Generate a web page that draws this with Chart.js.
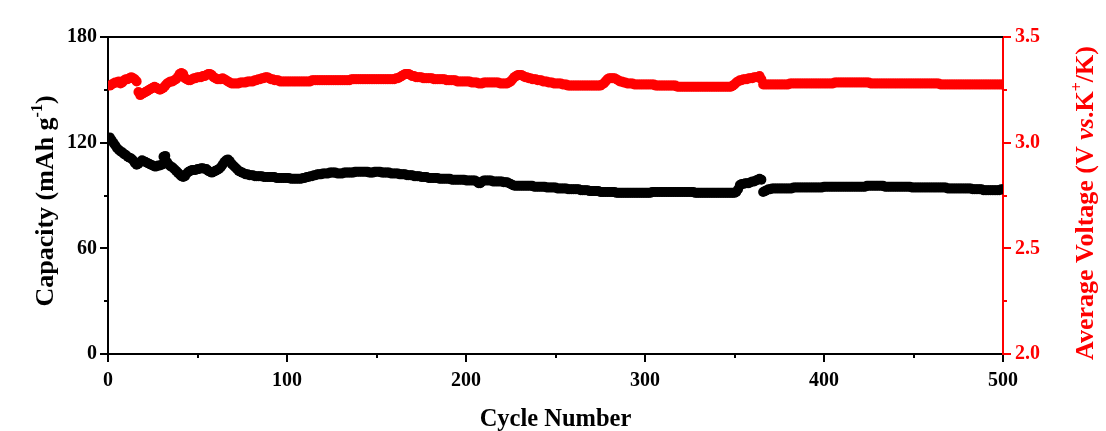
<!DOCTYPE html>
<html>
<head>
<meta charset="utf-8">
<script src="https://cdn.jsdelivr.net/npm/chart.js@4.4.1/dist/chart.umd.min.js"></script>
<style>
html,body{margin:0;padding:0;background:#fff;}
canvas{display:block;}
</style>
</head>
<body>
<canvas id="c" width="1106" height="431"></canvas>
<script>
// ---- data ----
const cycleCount = 500;
const xTicks = [0, 100, 200, 300, 400, 500];
const capacityTicks = [0, 60, 120, 180];
const voltageTicks = [2.0, 2.5, 3.0, 3.5];

const capacity = [
123,121.5,120,118.5,117,116,115,114.5,113.5,113,
112,111.5,111,110,108.5,107.5,108,109,110,109.5,
109,108.5,108,107.5,107,106.5,106.5,107,107,107.5,
112,112.5,109,107.5,106.5,106,105,104,103,102,
101,100.5,101,102.5,103.5,104,104.5,104.5,104.5,105,
105,105.5,105.5,105,105,104,103.5,103,103.5,104,
104.5,105,106,107.5,109,110,110.5,109.5,108,107,
106,105,104,103.5,103,102.5,102,102,101.5,101.5,
101.5,101,101,101,101,101,100.5,100.5,100.5,100.5,
100.5,100.5,100.5,100,100,100,100,100,100,100,
100,99.5,99.5,99.5,99.5,99.5,99.5,99.5,100,100,
100.5,100.5,101,101,101.5,101.5,102,102,102,102.5,
102.5,102.5,102.5,103,103,103,103,102.5,102.5,102.5,
102.5,103,103,103,103,103,103,103.5,103.5,103.5,
103.5,103.5,103.5,103.5,103.5,103,103,103,103.5,103.5,
103.5,103.5,103,103,103,103,103,102.5,102.5,102.5,
102.5,102.5,102,102,102,102,101.5,101.5,101.5,101.5,
101,101,101,101,100.5,100.5,100.5,100.5,100,100,
100,100,100,100,99.5,99.5,99.5,99.5,99.5,99.5,
99.5,99,99,99,99,99,99,99,99,98.5,
98.5,98.5,98.5,98.5,98.5,98,97,97,98,98.5,
98.5,98.5,98.5,98.5,98,98,98,98,98,98,
97.5,97.5,97.5,97,96.5,96,95.5,95.5,95.5,95.5,
95.5,95.5,95.5,95.5,95.5,95.5,95.5,95,95,95,
95,95,95,95,94.5,94.5,94.5,94.5,94.5,94.5,
94,94,94,94,94,94,93.5,93.5,93.5,93.5,
93.5,93.5,93.5,93,93,93,93,93,92.5,92.5,
92.5,92.5,92.5,92.5,92,92,92,92,92,92,
92,92,92,91.5,91.5,91.5,91.5,91.5,91.5,91.5,
91.5,91.5,91.5,91.5,91.5,91.5,91.5,91.5,91.5,91.5,
91.5,91.5,91.5,92,92,92,92,92,92,92,
92,92,92,92,92,92,92,92,92,92,
92,92,92,92,92,92,92,91.5,91.5,91.5,
91.5,91.5,91.5,91.5,91.5,91.5,91.5,91.5,91.5,91.5,
91.5,91.5,91.5,91.5,91.5,91.5,91.5,91.5,91.5,91.5,
92,93.5,96,96.5,96.5,97,97,97,97.5,98,
98,98.5,99,99.5,99,92,92.5,93,93.5,93.5,
94,94,94,94,94,94,94,94,94,94,
94,94,94.5,94.5,94.5,94.5,94.5,94.5,94.5,94.5,
94.5,94.5,94.5,94.5,94.5,94.5,94.5,94.5,94.5,95,
95,95,95,95,95,95,95,95,95,95,
95,95,95,95,95,95,95,95,95,95,
95,95,95,95.5,95.5,95.5,95.5,95.5,95.5,95.5,
95.5,95.5,95.5,95,95,95,95,95,95,95,
95,95,95,95,95,95,95,95,94.5,94.5,
94.5,94.5,94.5,94.5,94.5,94.5,94.5,94.5,94.5,94.5,
94.5,94.5,94.5,94.5,94.5,94.5,94.5,94.5,94,94,
94,94,94,94,94,94,94,94,94,94,
94,94,93.5,93.5,93.5,93.5,93.5,93.5,93,93,
93,93,93,93,93,93,93,93,93.5,93.5
];

const voltage = [
3.27,3.275,3.28,3.285,3.285,3.29,3.28,3.285,3.295,3.30,
3.30,3.305,3.31,3.305,3.30,3.29,3.24,3.225,3.23,3.235,
3.24,3.245,3.25,3.255,3.26,3.265,3.26,3.255,3.25,3.255,
3.26,3.27,3.28,3.285,3.29,3.29,3.295,3.30,3.31,3.325,
3.33,3.325,3.305,3.30,3.295,3.295,3.30,3.305,3.305,3.31,
3.31,3.31,3.315,3.315,3.32,3.325,3.325,3.32,3.31,3.305,
3.30,3.30,3.30,3.305,3.30,3.295,3.29,3.285,3.28,3.28,
3.28,3.28,3.28,3.285,3.285,3.285,3.285,3.29,3.29,3.29,
3.29,3.295,3.295,3.30,3.30,3.305,3.305,3.31,3.31,3.305,
3.30,3.30,3.295,3.295,3.295,3.29,3.29,3.29,3.29,3.29,
3.29,3.29,3.29,3.29,3.29,3.29,3.29,3.29,3.29,3.29,
3.29,3.29,3.29,3.295,3.295,3.295,3.295,3.295,3.295,3.295,
3.295,3.295,3.295,3.295,3.295,3.295,3.295,3.295,3.295,3.295,
3.295,3.295,3.295,3.295,3.295,3.30,3.30,3.30,3.30,3.30,
3.30,3.30,3.30,3.30,3.30,3.30,3.30,3.30,3.30,3.30,
3.30,3.30,3.30,3.30,3.30,3.30,3.30,3.30,3.30,3.30,
3.305,3.305,3.31,3.315,3.32,3.325,3.325,3.325,3.32,3.315,
3.315,3.31,3.31,3.31,3.31,3.305,3.305,3.305,3.305,3.305,
3.305,3.30,3.30,3.30,3.30,3.30,3.30,3.30,3.295,3.295,
3.295,3.295,3.295,3.295,3.29,3.29,3.29,3.29,3.29,3.29,
3.29,3.29,3.285,3.285,3.285,3.285,3.28,3.28,3.28,3.285,
3.285,3.285,3.285,3.285,3.285,3.285,3.285,3.285,3.28,3.28,
3.28,3.28,3.28,3.285,3.29,3.30,3.31,3.315,3.32,3.32,
3.32,3.315,3.31,3.31,3.305,3.305,3.30,3.30,3.30,3.295,
3.295,3.295,3.29,3.29,3.29,3.285,3.285,3.285,3.28,3.28,
3.28,3.28,3.28,3.275,3.275,3.275,3.27,3.27,3.27,3.27,
3.27,3.27,3.27,3.27,3.27,3.27,3.27,3.27,3.27,3.27,
3.27,3.27,3.27,3.27,3.27,3.275,3.28,3.29,3.30,3.305,
3.305,3.305,3.305,3.30,3.295,3.29,3.29,3.285,3.285,3.28,
3.28,3.28,3.28,3.275,3.275,3.275,3.275,3.275,3.275,3.275,
3.275,3.275,3.275,3.275,3.275,3.27,3.27,3.27,3.27,3.27,
3.27,3.27,3.27,3.27,3.27,3.27,3.27,3.265,3.265,3.265,
3.265,3.265,3.265,3.265,3.265,3.265,3.265,3.265,3.265,3.265,
3.265,3.265,3.265,3.265,3.265,3.265,3.265,3.265,3.265,3.265,
3.265,3.265,3.265,3.265,3.265,3.265,3.265,3.265,3.27,3.275,
3.285,3.29,3.295,3.295,3.30,3.30,3.30,3.305,3.305,3.305,
3.31,3.31,3.31,3.315,3.30,3.275,3.275,3.275,3.275,3.275,
3.275,3.275,3.275,3.275,3.275,3.275,3.275,3.275,3.275,3.275,
3.28,3.28,3.28,3.28,3.28,3.28,3.28,3.28,3.28,3.28,
3.28,3.28,3.28,3.28,3.28,3.28,3.28,3.28,3.28,3.28,
3.28,3.28,3.28,3.28,3.28,3.285,3.285,3.285,3.285,3.285,
3.285,3.285,3.285,3.285,3.285,3.285,3.285,3.285,3.285,3.285,
3.285,3.285,3.285,3.285,3.285,3.28,3.28,3.28,3.28,3.28,
3.28,3.28,3.28,3.28,3.28,3.28,3.28,3.28,3.28,3.28,
3.28,3.28,3.28,3.28,3.28,3.28,3.28,3.28,3.28,3.28,
3.28,3.28,3.28,3.28,3.28,3.28,3.28,3.28,3.28,3.28,
3.28,3.28,3.28,3.28,3.275,3.275,3.275,3.275,3.275,3.275,
3.275,3.275,3.275,3.275,3.275,3.275,3.275,3.275,3.275,3.275,
3.275,3.275,3.275,3.275,3.275,3.275,3.275,3.275,3.275,3.275,
3.275,3.275,3.275,3.275,3.275,3.275,3.275,3.275,3.275,3.275
];

// ---- build ----
const cycles = Array.from({length: cycleCount}, (_, i) => i + 1);
const capPts = cycles.map((c, i) => ({x: c, y: capacity[i]}));
const voltPts = cycles.map((c, i) => ({x: c, y: voltage[i]}));

const FONT = "'Liberation Serif', 'Times New Roman', serif";
const RED = '#ff0000';

function drawRich(ctx, segs, cx, cy, angle, color) {
  ctx.save();
  ctx.translate(cx, cy);
  ctx.rotate(angle);
  ctx.fillStyle = color;
  ctx.textBaseline = 'alphabetic';
  ctx.textAlign = 'left';
  let total = 0;
  segs.forEach(s => { ctx.font = s.font; s.w = ctx.measureText(s.t).width; total += s.w; });
  let x = -total / 2;
  segs.forEach(s => {
    ctx.font = s.font;
    ctx.fillText(s.t, x, s.dy || 0);
    x += s.w;
  });
  ctx.restore();
}

const decor = {
  id: 'decor',
  afterDraw(chart) {
    const ctx = chart.ctx;
    const a = chart.chartArea;
    const sx = chart.scales.x, sy = chart.scales.y, sv = chart.scales.y2;
    ctx.save();
    ctx.lineWidth = 2;
    // top frame line
    ctx.strokeStyle = '#000';
    ctx.beginPath(); ctx.moveTo(a.left, a.top); ctx.lineTo(a.right, a.top); ctx.stroke();
    // minor ticks
    ctx.beginPath();
    for (let i = 0; i < xTicks.length - 1; i++) {
      const px = Math.round(sx.getPixelForValue((xTicks[i] + xTicks[i + 1]) / 2));
      ctx.moveTo(px, a.bottom); ctx.lineTo(px, a.bottom + 4);
    }
    for (let i = 0; i < capacityTicks.length - 1; i++) {
      const py = Math.round(sy.getPixelForValue((capacityTicks[i] + capacityTicks[i + 1]) / 2));
      ctx.moveTo(a.left, py); ctx.lineTo(a.left - 4, py);
    }
    ctx.stroke();
    ctx.strokeStyle = RED;
    ctx.beginPath();
    for (let i = 0; i < voltageTicks.length - 1; i++) {
      const py = Math.round(sv.getPixelForValue((voltageTicks[i] + voltageTicks[i + 1]) / 2));
      ctx.moveTo(a.right, py); ctx.lineTo(a.right + 4, py);
    }
    ctx.stroke();
    ctx.restore();

    const B = 'bold 26px ' + FONT;
    const S = 'bold 16px ' + FONT;
    const BI = 'italic bold 26px ' + FONT;
    // x title
    drawRich(ctx, [{t: 'Cycle Number', font: 'bold 24.5px ' + FONT}], (a.left + a.right) / 2, 426, 0, '#000');
    // left title
    drawRich(ctx, [
      {t: 'Capacity (mAh g', font: B},
      {t: '-1', font: S, dy: -11},
      {t: ')', font: B}
    ], 53, 201, -Math.PI / 2, '#000');
    // right title
    drawRich(ctx, [
      {t: 'Average Voltage (V ', font: B},
      {t: 'vs', font: BI},
      {t: '.K', font: B},
      {t: '+', font: S, dy: -11},
      {t: '/K)', font: B}
    ], 1093, 203, -Math.PI / 2, RED);
  }
};

new Chart(document.getElementById('c'), {
  type: 'line',
  data: {
    datasets: [
      {label: 'Capacity', data: capPts, yAxisID: 'y', showLine: false,
       pointRadius: 5, pointBorderWidth: 0, pointBackgroundColor: '#000', pointBorderColor: '#000', backgroundColor: '#000', borderColor: '#000'},
      {label: 'Voltage', data: voltPts, yAxisID: 'y2', showLine: false,
       pointRadius: 5, pointBorderWidth: 0, pointBackgroundColor: RED, pointBorderColor: RED, backgroundColor: RED, borderColor: RED}
    ]
  },
  options: {
    responsive: false,
    devicePixelRatio: 1,
    animation: false,
    layout: {padding: {top: 37, left: 0, right: 0, bottom: 0}},
    plugins: {legend: {display: false}, tooltip: {enabled: false}},
    scales: {
      x: {
        type: 'linear', position: 'bottom', min: 0, max: 500,
        afterFit: s => { s.height = 77; },
        afterBuildTicks: s => { s.ticks = xTicks.map(v => ({value: v})); },
        ticks: {font: {family: FONT, size: 20, weight: 'bold'}, color: '#000', padding: 7, maxRotation: 0},
        grid: {drawOnChartArea: false, drawTicks: true, tickLength: 8, color: '#000', lineWidth: 2},
        border: {color: '#000', width: 2}
      },
      y: {
        type: 'linear', position: 'left', min: 0, max: 180,
        afterFit: s => { s.width = 108; },
        afterBuildTicks: s => { s.ticks = capacityTicks.map(v => ({value: v})); },
        ticks: {font: {family: FONT, size: 20, weight: 'bold'}, color: '#000', padding: 3},
        grid: {drawOnChartArea: false, drawTicks: true, tickLength: 8, color: '#000', lineWidth: 2},
        border: {color: '#000', width: 2}
      },
      y2: {
        type: 'linear', position: 'right', min: 2.0, max: 3.5,
        afterFit: s => { s.width = 103; },
        afterBuildTicks: s => { s.ticks = voltageTicks.map(v => ({value: v})); },
        ticks: {font: {family: FONT, size: 20, weight: 'bold'}, color: RED, padding: 4,
                callback: v => Number(v).toFixed(1)},
        grid: {drawOnChartArea: false, drawTicks: true, tickLength: 8, color: RED, lineWidth: 2},
        border: {color: RED, width: 2}
      }
    }
  },
  plugins: [decor]
});
</script>
</body>
</html>
